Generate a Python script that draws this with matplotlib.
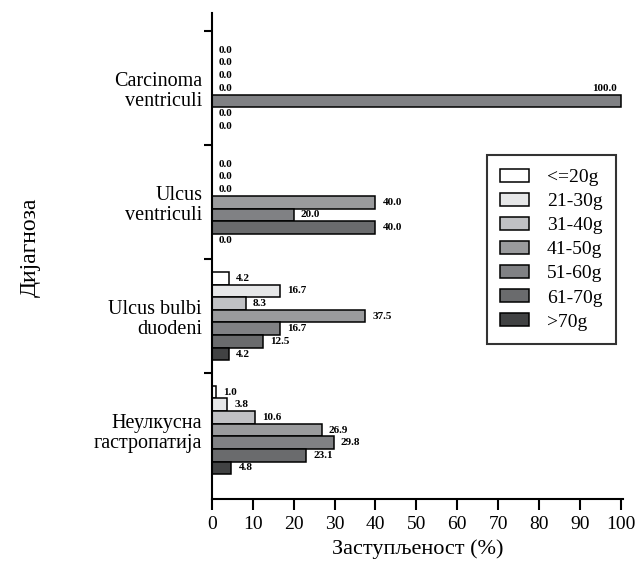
import numpy as np
import matplotlib.pyplot as plt
from matplotlib.ticker import FixedLocator

plt.rcParams['font.family'] = ['Liberation Serif', 'DejaVu Serif']

diagnoses = ['Carcinoma\nventriculi', 'Ulcus\nventriculi', 'Ulcus bulbi\nduodeni',
             'Неулкусна\nгастропатија']
groups = ['<=20g', '21-30g', '31-40g', '41-50g', '51-60g', '61-70g', '>70g']
values = [
    [0.0, 0.0, 0.0, 0.0, 100.0, 0.0, 0.0],
    [0.0, 0.0, 0.0, 40.0, 20.0, 40.0, 0.0],
    [4.2, 16.7, 8.3, 37.5, 16.7, 12.5, 4.2],
    [1.0, 3.8, 10.6, 26.9, 29.8, 23.1, 4.8],
]
colors = ['#ffffff', '#e6e7e8', '#c0c1c4', '#9a9b9d', '#808184', '#6a6b6d', '#414243']

fig = plt.figure(figsize=(6.38, 5.68), dpi=100)
ax = fig.add_axes([0.332, 0.1215, 0.645, 0.8555])

h = 0.111
values = np.array(values)
centers = np.arange(len(diagnoses))
for j, g in enumerate(groups):
    y = centers + (j - 3) * h
    ax.barh(y, values[:, j], height=h, color=colors[j], edgecolor='black',
            linewidth=1.1, label=g)
    for yi, v in zip(y, values[:, j]):
        if v > 95:
            # no room at the right end, so the label goes above the bar
            ax.annotate('%.1f' % v, (v, yi - h), xytext=(-3, 0), textcoords='offset points',
                        ha='right', va='center', fontsize=8, fontweight='bold')
        else:
            ax.annotate('%.1f' % v, (v, yi), xytext=(5, 0), textcoords='offset points',
                        ha='left', va='center', fontsize=8, fontweight='bold')

ax.set_xlim(0, 100.6)
ax.set_ylim(3.605, -0.66)
ax.set_xticks(np.arange(0, 101, 10))
ax.set_yticks(centers)
ax.set_yticklabels(diagnoses, fontsize=14.5, ha='right', linespacing=1.12)
ax.yaxis.set_minor_locator(FixedLocator([-0.5, 0.5, 1.5, 2.5]))
ax.tick_params(axis='y', which='major', length=0, pad=7)
ax.tick_params(axis='y', which='minor', length=6, width=1.5, direction='out')
ax.tick_params(axis='x', length=8, width=1.5, labelsize=14, pad=4)
for s in ['top', 'right']:
    ax.spines[s].set_visible(False)
for s in ['left', 'bottom']:
    ax.spines[s].set_linewidth(1.5)

ax.set_xlabel('Заступљеност (%)', fontsize=16, labelpad=5)
fig.text(0.047, 0.565, 'Дијагноза', rotation=90, fontsize=17, ha='center', va='center')

leg = ax.legend(loc='upper left', bbox_to_anchor=(0.668, 0.708), fontsize=14,
                frameon=True, fancybox=False, edgecolor='black', borderpad=0.7,
                labelspacing=0.35, handlelength=1.5, handleheight=0.65,
                handletextpad=0.9, borderaxespad=0)
leg.get_frame().set_linewidth(1.5)

fig.savefig('out.png', dpi=100)
